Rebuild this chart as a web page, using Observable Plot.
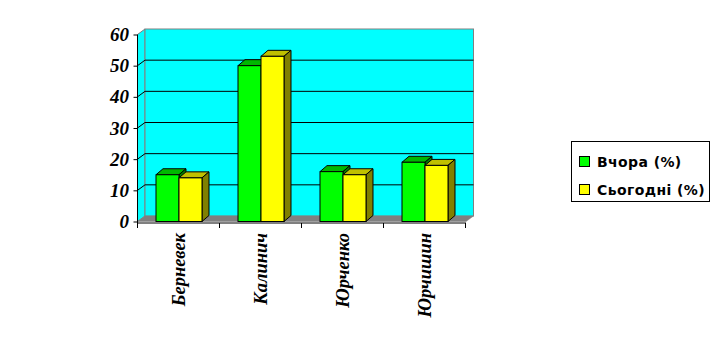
<!DOCTYPE html>
<html>
<head>
<meta charset="utf-8">
<script src="https://cdn.jsdelivr.net/npm/d3@7"></script>
<script src="https://cdn.jsdelivr.net/npm/@observablehq/plot@0.6"></script>
<style>
  html, body { margin: 0; padding: 0; background: #fff; }
  #wrap { position: relative; width: 728px; height: 344px; overflow: hidden; }
  #wrap svg text { font-family: "Liberation Serif", "Times New Roman", serif; font-weight: bold; font-style: italic; fill: #000; }
  #wrap svg g[aria-label^="x-axis"] text { font-size: 18.5px; }
  #legend { position: absolute; left: 571px; top: 141px; width: 137px; height: 59px; border: 1px solid #000; background: #fff;
            font-family: "DejaVu Sans", sans-serif; font-weight: bold; font-size: 14px; letter-spacing: 0.4px; color: #000; }
  .item { position: absolute; left: 7px; height: 12px; line-height: 12px; white-space: nowrap; }
  .sw { display: inline-block; width: 9px; height: 9px; border: 1px solid #000; vertical-align: top; margin-right: 7px; }
</style>
</head>
<body>
<div id="wrap"></div>
<script>
// ---- data ----
const categories = ["Берневек", "Калинич", "Юрченко", "Юрчишин"];
const seriesNames = ["Вчора (%)", "Сьогодні (%)"];
const vchora = [15, 50, 16, 19];
const sogodni = [14, 53, 15, 18];
const yTicks = [0, 10, 20, 30, 40, 50, 60];

// ---- styles ----
const frontColors = ["#00FF00", "#FFFF00"];
const topColors = ["#00B800", "#C0C000"];
const sideColors = ["#008000", "#808000"];
const wallColor = "#00FFFF";
const wallEdge = "#808080";
const floorColor = "#808080";

const W = 728, H = 344;
const mL = 137.5, mR = 262, mT = 34.5, mB = 122.5;
const padInner = 0.44, padOuter = 0.22;
const WX = 7.5, WY = -5.5;   // wall depth offset
const BX = 7, BY = -6;       // bar depth offset
const half = (W - mL - mR) * (1 - padInner) / (categories.length - padInner + 2 * padOuter) / 2;

const seriesValues = [vchora, sogodni];
const rows = seriesValues.map((vals, k) =>
  categories.map((c, i) => ({cat: c, series: seriesNames[k], value: vals[i]})));

function backdrop(index, scales) {
  const x = scales.x, y = scales.y;
  const [x0, x1] = x.range();
  const yb = y(yTicks[0]), yt = y(yTicks[yTicks.length - 1]);
  const g = d3.create("svg:g");
  g.append("path")
    .attr("d", `M${x0},${yb}L${x0 + WX},${yb + WY}L${x0 + WX},${yt + WY}L${x0},${yt}Z`)
    .attr("fill", wallColor).attr("stroke", wallEdge);
  g.append("rect")
    .attr("x", x0 + WX).attr("y", yt + WY).attr("width", x1 - x0).attr("height", yb - yt)
    .attr("fill", wallColor).attr("stroke", wallEdge);
  for (const t of yTicks.slice(1, -1)) {
    const yy = y(t);
    g.append("line").attr("x1", x0 + WX).attr("x2", x1 + WX).attr("y1", yy + WY).attr("y2", yy + WY)
      .attr("stroke", "#000");
    g.append("line").attr("x1", x0).attr("x2", x0 + WX).attr("y1", yy).attr("y2", yy + WY)
      .attr("stroke", "#000");
  }
  g.append("path")
    .attr("d", `M${x0},${yb}L${x1},${yb}L${x1 + WX},${yb + WY}L${x0 + WX},${yb + WY}Z`)
    .attr("fill", floorColor).attr("stroke", floorColor).attr("stroke-width", 0.5);
  return g.node();
}

function depth(k) {
  return (index, scales) => {
    const x = scales.x, y = scales.y;
    const g = d3.create("svg:g");
    rows[k].forEach(d => {
      const xl = x(d.cat) + k * half, xr = xl + half;
      const yt = y(d.value), yb = y(0);
      g.append("path")
        .attr("d", `M${xl},${yt}L${xl + BX},${yt + BY}L${xr + BX},${yt + BY}L${xr},${yt}Z`)
        .attr("fill", topColors[k]).attr("stroke", "#000");
      g.append("path")
        .attr("d", `M${xr},${yt}L${xr + BX},${yt + BY}L${xr + BX},${yb + BY}L${xr},${yb}Z`)
        .attr("fill", sideColors[k]).attr("stroke", "#000");
    });
    return g.node();
  };
}

function axisLines(index, scales) {
  const x = scales.x, y = scales.y;
  const [x0, x1] = x.range();
  const yb = y(yTicks[0]) + 1.5, yt = y(yTicks[yTicks.length - 1]);
  const g = d3.create("svg:g").attr("stroke", "#000");
  g.append("line").attr("x1", x0).attr("x2", x0).attr("y1", yt).attr("y2", yb);
  g.append("line").attr("x1", x0).attr("x2", x1).attr("y1", yb).attr("y2", yb);
  const step = x.step();
  for (let i = 0; i <= categories.length; i++) {
    const xx = x0 + i * step;
    g.append("line").attr("x1", xx).attr("x2", xx).attr("y1", yb).attr("y2", yb + 5);
  }
  return g.node();
}

const chart = Plot.plot({
  width: W, height: H,
  marginLeft: mL, marginRight: mR, marginTop: mT, marginBottom: mB,
  style: {background: "transparent", fontSize: "19px", overflow: "visible"},
  x: {domain: categories, paddingInner: padInner, paddingOuter: padOuter,
      tickSize: 0, tickPadding: 11, tickRotate: -90, label: null},
  y: {domain: [yTicks[0], yTicks[yTicks.length - 1]], ticks: yTicks, tickSize: 4, tickPadding: 5, label: null},
  marks: [
    backdrop,
    depth(0),
    Plot.barY(rows[0], {x: "cat", y: "value", fill: frontColors[0], stroke: "#000", insetLeft: 0, insetRight: half}),
    depth(1),
    Plot.barY(rows[1], {x: "cat", y: "value", fill: frontColors[1], stroke: "#000", insetLeft: half, insetRight: 0}),
    axisLines
  ]
});
document.getElementById("wrap").appendChild(chart);

// legend
const legend = document.createElement("div");
legend.id = "legend";
const tops = [14, 42];
seriesNames.forEach((s, k) => {
  const it = document.createElement("div");
  it.className = "item";
  it.style.top = tops[k] + "px";
  const sw = document.createElement("span");
  sw.className = "sw";
  sw.style.background = frontColors[k];
  it.appendChild(sw);
  it.appendChild(document.createTextNode(s));
  legend.appendChild(it);
});
document.getElementById("wrap").appendChild(legend);
</script>
</body>
</html>
